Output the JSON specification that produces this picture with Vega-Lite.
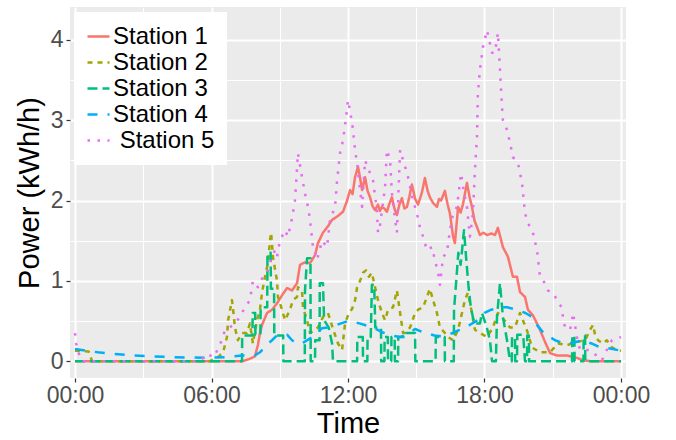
{
"$schema": "https://vega.github.io/schema/vega-lite/v6.json",
"width": 556, "height": 371,
"autosize": {"type": "none"},
"padding": {"left": 70, "top": 7, "right": 50, "bottom": 62},
"background": "white",
"config": {"view": {"fill": "#EBEBEB", "stroke": null}, "font": "Liberation Sans"},
"data": {"values": [
{"s":"1","t":0,"v":0},{"s":"1","t":7.38,"v":0},{"s":"1","t":7.69,"v":0.03},{"s":"1","t":7.91,"v":0.06},{"s":"1","t":8.04,"v":0.2},{"s":"1","t":8.13,"v":0.35},{"s":"1","t":8.22,"v":0.45},{"s":"1","t":8.44,"v":0.6},{"s":"1","t":8.66,"v":0.64},{"s":"1","t":8.88,"v":0.72},{"s":"1","t":9.1,"v":0.82},{"s":"1","t":9.32,"v":0.91},{"s":"1","t":9.54,"v":0.88},{"s":"1","t":9.76,"v":0.97},{"s":"1","t":9.89,"v":1.2},{"s":"1","t":10.11,"v":1.23},{"s":"1","t":10.33,"v":1.22},{"s":"1","t":10.55,"v":1.32},{"s":"1","t":10.68,"v":1.47},{"s":"1","t":10.9,"v":1.6},{"s":"1","t":11.12,"v":1.68},{"s":"1","t":11.3,"v":1.76},{"s":"1","t":11.52,"v":1.8},{"s":"1","t":11.78,"v":1.86},{"s":"1","t":11.96,"v":2.0},{"s":"1","t":12.09,"v":2.13},{"s":"1","t":12.2,"v":2.08},{"s":"1","t":12.31,"v":2.29},{"s":"1","t":12.44,"v":2.42},{"s":"1","t":12.52,"v":2.3},{"s":"1","t":12.62,"v":2.13},{"s":"1","t":12.75,"v":2.29},{"s":"1","t":12.86,"v":2.12},{"s":"1","t":12.97,"v":2.04},{"s":"1","t":13.08,"v":1.93},{"s":"1","t":13.19,"v":1.88},{"s":"1","t":13.32,"v":1.95},{"s":"1","t":13.4,"v":1.87},{"s":"1","t":13.49,"v":1.92},{"s":"1","t":13.6,"v":1.9},{"s":"1","t":13.71,"v":1.86},{"s":"1","t":13.82,"v":1.96},{"s":"1","t":13.93,"v":2.04},{"s":"1","t":14.04,"v":1.9},{"s":"1","t":14.15,"v":1.82},{"s":"1","t":14.26,"v":1.95},{"s":"1","t":14.37,"v":2.03},{"s":"1","t":14.48,"v":1.9},{"s":"1","t":14.59,"v":1.92},{"s":"1","t":14.7,"v":2.05},{"s":"1","t":14.81,"v":2.2},{"s":"1","t":14.95,"v":2.02},{"s":"1","t":15.08,"v":1.95},{"s":"1","t":15.25,"v":2.1},{"s":"1","t":15.38,"v":2.28},{"s":"1","t":15.5,"v":2.12},{"s":"1","t":15.6,"v":2.04},{"s":"1","t":15.74,"v":1.97},{"s":"1","t":15.91,"v":1.92},{"s":"1","t":16.0,"v":2.02},{"s":"1","t":16.09,"v":2.0},{"s":"1","t":16.26,"v":2.12},{"s":"1","t":16.38,"v":1.95},{"s":"1","t":16.48,"v":1.84},{"s":"1","t":16.62,"v":1.55},{"s":"1","t":16.7,"v":1.47},{"s":"1","t":16.84,"v":1.92},{"s":"1","t":16.95,"v":1.85},{"s":"1","t":17.05,"v":1.95},{"s":"1","t":17.23,"v":2.22},{"s":"1","t":17.34,"v":2.05},{"s":"1","t":17.45,"v":1.92},{"s":"1","t":17.56,"v":1.75},{"s":"1","t":17.67,"v":1.67},{"s":"1","t":17.8,"v":1.57},{"s":"1","t":17.95,"v":1.6},{"s":"1","t":18.11,"v":1.57},{"s":"1","t":18.3,"v":1.59},{"s":"1","t":18.46,"v":1.57},{"s":"1","t":18.59,"v":1.66},{"s":"1","t":18.81,"v":1.42},{"s":"1","t":19.03,"v":1.3},{"s":"1","t":19.25,"v":1.05},{"s":"1","t":19.43,"v":1.05},{"s":"1","t":19.56,"v":0.86},{"s":"1","t":19.78,"v":0.8},{"s":"1","t":19.91,"v":0.64},{"s":"1","t":20.13,"v":0.57},{"s":"1","t":20.44,"v":0.39},{"s":"1","t":20.66,"v":0.24},{"s":"1","t":20.88,"v":0.1},{"s":"1","t":21.19,"v":0.07},{"s":"1","t":21.63,"v":0.07},{"s":"1","t":22.07,"v":0.04},{"s":"1","t":22.33,"v":0.01},{"s":"1","t":22.64,"v":0},{"s":"1","t":24,"v":0},
{"s":"2","t":0,"v":0.13},{"s":"2","t":0.6,"v":0.12},{"s":"2","t":0.75,"v":0},{"s":"2","t":5.93,"v":0},{"s":"2","t":6.29,"v":0.05},{"s":"2","t":6.51,"v":0.11},{"s":"2","t":6.68,"v":0.3},{"s":"2","t":6.73,"v":0.51},{"s":"2","t":6.9,"v":0.76},{"s":"2","t":6.95,"v":0.64},{"s":"2","t":7.03,"v":0.42},{"s":"2","t":7.16,"v":0.26},{"s":"2","t":7.34,"v":0.35},{"s":"2","t":7.56,"v":0.35},{"s":"2","t":7.69,"v":0.47},{"s":"2","t":7.82,"v":0.22},{"s":"2","t":8.0,"v":0.51},{"s":"2","t":8.13,"v":0.64},{"s":"2","t":8.22,"v":0.85},{"s":"2","t":8.35,"v":1.05},{"s":"2","t":8.48,"v":1.22},{"s":"2","t":8.57,"v":1.5},{"s":"2","t":8.62,"v":1.6},{"s":"2","t":8.7,"v":1.3},{"s":"2","t":8.88,"v":1.0},{"s":"2","t":8.92,"v":0.8},{"s":"2","t":9.1,"v":0.64},{"s":"2","t":9.23,"v":0.51},{"s":"2","t":9.45,"v":0.64},{"s":"2","t":9.58,"v":0.76},{"s":"2","t":9.76,"v":0.8},{"s":"2","t":9.8,"v":0.92},{"s":"2","t":9.98,"v":0.88},{"s":"2","t":10.02,"v":0.67},{"s":"2","t":10.2,"v":0.51},{"s":"2","t":10.33,"v":0.35},{"s":"2","t":10.55,"v":0.39},{"s":"2","t":10.68,"v":0.42},{"s":"2","t":10.9,"v":0.55},{"s":"2","t":11.12,"v":0.6},{"s":"2","t":11.34,"v":0.4},{"s":"2","t":11.56,"v":0.22},{"s":"2","t":11.74,"v":0.14},{"s":"2","t":11.87,"v":0.47},{"s":"2","t":12.04,"v":0.6},{"s":"2","t":12.18,"v":0.65},{"s":"2","t":12.31,"v":0.76},{"s":"2","t":12.4,"v":0.92},{"s":"2","t":12.53,"v":1.0},{"s":"2","t":12.66,"v":1.1},{"s":"2","t":12.79,"v":1.13},{"s":"2","t":12.92,"v":1.05},{"s":"2","t":13.05,"v":1.1},{"s":"2","t":13.19,"v":0.92},{"s":"2","t":13.32,"v":0.76},{"s":"2","t":13.49,"v":0.6},{"s":"2","t":13.63,"v":0.51},{"s":"2","t":13.76,"v":0.64},{"s":"2","t":13.98,"v":0.67},{"s":"2","t":14.15,"v":0.88},{"s":"2","t":14.29,"v":0.6},{"s":"2","t":14.42,"v":0.35},{"s":"2","t":14.51,"v":0.35},{"s":"2","t":14.73,"v":0.42},{"s":"2","t":14.95,"v":0.6},{"s":"2","t":15.08,"v":0.64},{"s":"2","t":15.3,"v":0.67},{"s":"2","t":15.47,"v":0.8},{"s":"2","t":15.6,"v":0.9},{"s":"2","t":15.74,"v":0.76},{"s":"2","t":15.91,"v":0.6},{"s":"2","t":16.04,"v":0.42},{"s":"2","t":16.26,"v":0.35},{"s":"2","t":16.4,"v":0.3},{"s":"2","t":16.62,"v":0.26},{"s":"2","t":16.84,"v":0.39},{"s":"2","t":17.01,"v":0.6},{"s":"2","t":17.14,"v":0.76},{"s":"2","t":17.27,"v":0.85},{"s":"2","t":17.45,"v":0.6},{"s":"2","t":17.58,"v":0.39},{"s":"2","t":17.8,"v":0.35},{"s":"2","t":18.11,"v":0.3},{"s":"2","t":18.37,"v":0.42},{"s":"2","t":18.59,"v":0.6},{"s":"2","t":18.9,"v":0.5},{"s":"2","t":19.12,"v":0.42},{"s":"2","t":19.34,"v":0.42},{"s":"2","t":19.56,"v":0.6},{"s":"2","t":19.87,"v":0.38},{"s":"2","t":20.09,"v":0.17},{"s":"2","t":20.44,"v":0.11},{"s":"2","t":20.88,"v":0.11},{"s":"2","t":21.23,"v":0.22},{"s":"2","t":21.63,"v":0.2},{"s":"2","t":22.07,"v":0.24},{"s":"2","t":22.42,"v":0.26},{"s":"2","t":22.64,"v":0.39},{"s":"2","t":22.77,"v":0.45},{"s":"2","t":22.86,"v":0.33},{"s":"2","t":22.99,"v":0.26},{"s":"2","t":23.21,"v":0.22},{"s":"2","t":23.38,"v":0.26},{"s":"2","t":23.6,"v":0.17},{"s":"2","t":23.82,"v":0.14},{"s":"2","t":24,"v":0.13},
{"s":"3","t":0,"v":0},{"s":"3","t":7.34,"v":0},{"s":"3","t":7.35,"v":0.32},{"s":"3","t":7.8,"v":0.32},{"s":"3","t":7.81,"v":0.6},{"s":"3","t":7.92,"v":0.6},{"s":"3","t":7.93,"v":0.33},{"s":"3","t":8.15,"v":0.33},{"s":"3","t":8.16,"v":0.67},{"s":"3","t":8.45,"v":0.67},{"s":"3","t":8.46,"v":1.35},{"s":"3","t":8.6,"v":1.35},{"s":"3","t":8.61,"v":0.9},{"s":"3","t":8.75,"v":0.9},{"s":"3","t":8.76,"v":0.32},{"s":"3","t":9.15,"v":0.32},{"s":"3","t":9.16,"v":0},{"s":"3","t":10.1,"v":0},{"s":"3","t":10.11,"v":0.88},{"s":"3","t":10.2,"v":1.28},{"s":"3","t":10.35,"v":1.28},{"s":"3","t":10.36,"v":0},{"s":"3","t":10.55,"v":0},{"s":"3","t":10.56,"v":0.26},{"s":"3","t":10.75,"v":0.26},{"s":"3","t":10.76,"v":0.97},{"s":"3","t":10.9,"v":0.97},{"s":"3","t":10.95,"v":0.51},{"s":"3","t":11.15,"v":0.42},{"s":"3","t":11.3,"v":0.22},{"s":"3","t":11.34,"v":0},{"s":"3","t":12.4,"v":0},{"s":"3","t":12.41,"v":0.3},{"s":"3","t":12.65,"v":0.3},{"s":"3","t":12.66,"v":0},{"s":"3","t":12.85,"v":0},{"s":"3","t":12.86,"v":0.3},{"s":"3","t":13.0,"v":0.3},{"s":"3","t":13.05,"v":0.95},{"s":"3","t":13.15,"v":0.95},{"s":"3","t":13.2,"v":0.42},{"s":"3","t":13.45,"v":0.42},{"s":"3","t":13.46,"v":0},{"s":"3","t":13.6,"v":0},{"s":"3","t":13.61,"v":0.3},{"s":"3","t":13.75,"v":0.3},{"s":"3","t":13.76,"v":0},{"s":"3","t":13.9,"v":0},{"s":"3","t":13.91,"v":0.3},{"s":"3","t":14.05,"v":0.3},{"s":"3","t":14.06,"v":0},{"s":"3","t":14.2,"v":0},{"s":"3","t":14.21,"v":0.3},{"s":"3","t":14.55,"v":0.3},{"s":"3","t":14.56,"v":0.35},{"s":"3","t":14.95,"v":0.35},{"s":"3","t":14.96,"v":0},{"s":"3","t":15.85,"v":0},{"s":"3","t":15.86,"v":0.3},{"s":"3","t":16.25,"v":0.3},{"s":"3","t":16.26,"v":0},{"s":"3","t":16.65,"v":0},{"s":"3","t":16.66,"v":0.64},{"s":"3","t":16.75,"v":0.97},{"s":"3","t":16.85,"v":1.35},{"s":"3","t":16.95,"v":1.2},{"s":"3","t":17.1,"v":1.63},{"s":"3","t":17.2,"v":1.26},{"s":"3","t":17.3,"v":0.92},{"s":"3","t":17.4,"v":0.67},{"s":"3","t":17.55,"v":0.47},{"s":"3","t":17.8,"v":0.47},{"s":"3","t":17.89,"v":0.6},{"s":"3","t":18.1,"v":0.42},{"s":"3","t":18.24,"v":0.26},{"s":"3","t":18.33,"v":0},{"s":"3","t":18.5,"v":0},{"s":"3","t":18.55,"v":0.55},{"s":"3","t":18.68,"v":0.97},{"s":"3","t":18.81,"v":0.55},{"s":"3","t":18.99,"v":0.26},{"s":"3","t":19.12,"v":0},{"s":"3","t":19.2,"v":0},{"s":"3","t":19.21,"v":0.3},{"s":"3","t":19.34,"v":0.3},{"s":"3","t":19.35,"v":0},{"s":"3","t":19.43,"v":0},{"s":"3","t":19.44,"v":0.33},{"s":"3","t":19.7,"v":0.33},{"s":"3","t":19.78,"v":0},{"s":"3","t":19.87,"v":0},{"s":"3","t":19.88,"v":0.32},{"s":"3","t":19.95,"v":0.32},{"s":"3","t":19.96,"v":0},{"s":"3","t":21.85,"v":0},{"s":"3","t":21.86,"v":0.32},{"s":"3","t":21.95,"v":0.32},{"s":"3","t":21.96,"v":0},{"s":"3","t":22.35,"v":0},{"s":"3","t":22.36,"v":0.32},{"s":"3","t":22.42,"v":0.32},{"s":"3","t":22.43,"v":0},{"s":"3","t":24,"v":0},
{"s":"4","t":0,"v":0.15},{"s":"4","t":0.5,"v":0.13},{"s":"4","t":1.0,"v":0.11},{"s":"4","t":1.75,"v":0.09},{"s":"4","t":2.55,"v":0.07},{"s":"4","t":3.4,"v":0.06},{"s":"4","t":4.3,"v":0.05},{"s":"4","t":5.85,"v":0.04},{"s":"4","t":6.6,"v":0.05},{"s":"4","t":7.34,"v":0.07},{"s":"4","t":7.9,"v":0.07},{"s":"4","t":8.13,"v":0.11},{"s":"4","t":8.5,"v":0.22},{"s":"4","t":8.66,"v":0.26},{"s":"4","t":8.88,"v":0.32},{"s":"4","t":9.32,"v":0.33},{"s":"4","t":9.54,"v":0.26},{"s":"4","t":9.76,"v":0.22},{"s":"4","t":9.98,"v":0.22},{"s":"4","t":10.2,"v":0.26},{"s":"4","t":10.42,"v":0.3},{"s":"4","t":10.64,"v":0.36},{"s":"4","t":10.86,"v":0.41},{"s":"4","t":11.1,"v":0.42},{"s":"4","t":11.5,"v":0.45},{"s":"4","t":12.0,"v":0.5},{"s":"4","t":12.5,"v":0.47},{"s":"4","t":13.1,"v":0.42},{"s":"4","t":13.5,"v":0.36},{"s":"4","t":13.9,"v":0.32},{"s":"4","t":14.3,"v":0.3},{"s":"4","t":14.6,"v":0.33},{"s":"4","t":14.95,"v":0.4},{"s":"4","t":15.3,"v":0.36},{"s":"4","t":15.8,"v":0.32},{"s":"4","t":16.1,"v":0.31},{"s":"4","t":16.5,"v":0.34},{"s":"4","t":16.9,"v":0.39},{"s":"4","t":17.35,"v":0.45},{"s":"4","t":17.7,"v":0.51},{"s":"4","t":18.0,"v":0.6},{"s":"4","t":18.3,"v":0.64},{"s":"4","t":18.7,"v":0.67},{"s":"4","t":19.0,"v":0.67},{"s":"4","t":19.4,"v":0.64},{"s":"4","t":19.8,"v":0.6},{"s":"4","t":20.1,"v":0.55},{"s":"4","t":20.25,"v":0.47},{"s":"4","t":20.6,"v":0.35},{"s":"4","t":21.1,"v":0.26},{"s":"4","t":21.5,"v":0.22},{"s":"4","t":21.9,"v":0.23},{"s":"4","t":22.3,"v":0.26},{"s":"4","t":22.7,"v":0.22},{"s":"4","t":23.1,"v":0.17},{"s":"4","t":23.45,"v":0.16},{"s":"4","t":23.82,"v":0.14},{"s":"4","t":24,"v":0.13},
{"s":"5","t":0,"v":0.35},{"s":"5","t":0.05,"v":0.22},{"s":"5","t":0.15,"v":0.11},{"s":"5","t":0.3,"v":0},{"s":"5","t":5.5,"v":0},{"s":"5","t":5.8,"v":0.09},{"s":"5","t":6.1,"v":0.05},{"s":"5","t":6.3,"v":0.16},{"s":"5","t":6.45,"v":0.26},{"s":"5","t":6.6,"v":0.39},{"s":"5","t":6.8,"v":0.42},{"s":"5","t":7.03,"v":0.47},{"s":"5","t":7.25,"v":0.55},{"s":"5","t":7.47,"v":0.67},{"s":"5","t":7.69,"v":0.76},{"s":"5","t":7.82,"v":1.0},{"s":"5","t":8.04,"v":0.92},{"s":"5","t":8.26,"v":1.05},{"s":"5","t":8.48,"v":1.13},{"s":"5","t":8.66,"v":1.3},{"s":"5","t":8.79,"v":1.38},{"s":"5","t":8.88,"v":1.3},{"s":"5","t":9.01,"v":1.5},{"s":"5","t":9.23,"v":1.63},{"s":"5","t":9.36,"v":1.55},{"s":"5","t":9.54,"v":1.78},{"s":"5","t":9.67,"v":2.0},{"s":"5","t":9.8,"v":2.59},{"s":"5","t":9.98,"v":2.29},{"s":"5","t":10.11,"v":2.09},{"s":"5","t":10.24,"v":1.92},{"s":"5","t":10.33,"v":1.76},{"s":"5","t":10.46,"v":1.42},{"s":"5","t":10.64,"v":1.26},{"s":"5","t":10.86,"v":1.5},{"s":"5","t":11.08,"v":1.42},{"s":"5","t":11.21,"v":1.76},{"s":"5","t":11.43,"v":1.92},{"s":"5","t":11.52,"v":2.25},{"s":"5","t":11.65,"v":2.59},{"s":"5","t":11.78,"v":2.75},{"s":"5","t":11.9,"v":3.0},{"s":"5","t":12.0,"v":3.25},{"s":"5","t":12.1,"v":3.1},{"s":"5","t":12.2,"v":2.92},{"s":"5","t":12.31,"v":2.63},{"s":"5","t":12.4,"v":2.47},{"s":"5","t":12.53,"v":2.13},{"s":"5","t":12.62,"v":1.92},{"s":"5","t":12.75,"v":2.5},{"s":"5","t":12.97,"v":2.34},{"s":"5","t":13.1,"v":2.25},{"s":"5","t":13.27,"v":1.88},{"s":"5","t":13.32,"v":1.6},{"s":"5","t":13.41,"v":1.7},{"s":"5","t":13.63,"v":2.17},{"s":"5","t":13.71,"v":2.63},{"s":"5","t":13.85,"v":2.5},{"s":"5","t":13.93,"v":2.09},{"s":"5","t":14.07,"v":1.76},{"s":"5","t":14.15,"v":1.6},{"s":"5","t":14.29,"v":2.63},{"s":"5","t":14.51,"v":2.42},{"s":"5","t":14.64,"v":2.29},{"s":"5","t":14.86,"v":2.0},{"s":"5","t":15.03,"v":1.84},{"s":"5","t":15.16,"v":1.67},{"s":"5","t":15.3,"v":1.55},{"s":"5","t":15.47,"v":1.38},{"s":"5","t":15.69,"v":1.42},{"s":"5","t":15.82,"v":1.26},{"s":"5","t":15.96,"v":1.1},{"s":"5","t":16.04,"v":0.95},{"s":"5","t":16.18,"v":1.3},{"s":"5","t":16.35,"v":1.35},{"s":"5","t":16.48,"v":1.63},{"s":"5","t":16.62,"v":1.84},{"s":"5","t":16.79,"v":1.92},{"s":"5","t":16.97,"v":2.34},{"s":"5","t":17.1,"v":2.09},{"s":"5","t":17.23,"v":1.92},{"s":"5","t":17.36,"v":1.55},{"s":"5","t":17.49,"v":1.84},{"s":"5","t":17.58,"v":2.38},{"s":"5","t":17.67,"v":2.79},{"s":"5","t":17.71,"v":3.34},{"s":"5","t":17.8,"v":3.63},{"s":"5","t":17.93,"v":3.91},{"s":"5","t":18.11,"v":4.12},{"s":"5","t":18.33,"v":3.84},{"s":"5","t":18.46,"v":3.84},{"s":"5","t":18.59,"v":4.09},{"s":"5","t":18.68,"v":3.63},{"s":"5","t":18.77,"v":3.17},{"s":"5","t":18.81,"v":3.0},{"s":"5","t":18.99,"v":2.88},{"s":"5","t":19.12,"v":2.72},{"s":"5","t":19.25,"v":2.54},{"s":"5","t":19.47,"v":2.47},{"s":"5","t":19.65,"v":2.22},{"s":"5","t":19.78,"v":1.84},{"s":"5","t":19.91,"v":1.72},{"s":"5","t":20.13,"v":1.6},{"s":"5","t":20.31,"v":1.38},{"s":"5","t":20.44,"v":1.05},{"s":"5","t":20.66,"v":0.97},{"s":"5","t":20.79,"v":0.88},{"s":"5","t":21.01,"v":0.85},{"s":"5","t":21.19,"v":0.76},{"s":"5","t":21.41,"v":0.66},{"s":"5","t":21.45,"v":0.54},{"s":"5","t":21.54,"v":0.42},{"s":"5","t":21.76,"v":0.39},{"s":"5","t":21.85,"v":0.51},{"s":"5","t":21.89,"v":0.6},{"s":"5","t":22.07,"v":0.29},{"s":"5","t":22.2,"v":0.14},{"s":"5","t":22.64,"v":0.14},{"s":"5","t":23.16,"v":0.01},{"s":"5","t":23.43,"v":0.17},{"s":"5","t":23.6,"v":0.26},{"s":"5","t":23.91,"v":0.29},{"s":"5","t":24,"v":0.3}
]},
"mark": {"type": "line", "strokeWidth": 2.5, "clip": true, "strokeCap": "butt", "strokeJoin": "round"},
"encoding": {
  "x": {"field": "t", "type": "quantitative",
    "scale": {"domain": [-0.22, 24.22], "nice": false, "zero": false},
    "axis": {"values": [0,3,6,9,12,15,18,21,24], "title": "Time",
      "labelExpr": "datum.value % 6 === 0 ? ((datum.value % 24) < 10 ? '0' : '') + (datum.value % 24) + ':00' : ''",
      "labelFontSize": 23, "labelColor": "#4D4D4D", "labelPadding": 2, "labelFont": "Liberation Sans",
      "titleFontSize": 29, "titleFontWeight": "normal", "titleColor": "black", "titlePadding": 2, "titleFont": "Liberation Sans",
      "domain": false, "tickColor": "#333333", "tickSize": 4, "tickWidth": 1.2,
      "tickOpacity": {"condition": {"test": "datum.value % 6 === 0", "value": 1}, "value": 0},
      "gridColor": "white",
      "gridWidth": {"condition": {"test": "datum.value % 6 === 0", "value": 2}, "value": 1}}},
  "y": {"field": "v", "type": "quantitative",
    "scale": {"domain": [-0.21, 4.41], "nice": false, "zero": false},
    "axis": {"values": [0,0.5,1,1.5,2,2.5,3,3.5,4], "title": "Power (kWh/h)",
      "labelExpr": "datum.value % 1 === 0 ? '' + datum.value : ''",
      "labelFontSize": 23, "labelColor": "#4D4D4D", "labelPadding": 3, "labelFont": "Liberation Sans",
      "titleFontSize": 29, "titleFontWeight": "normal", "titleColor": "black", "titlePadding": 6, "titleFont": "Liberation Sans",
      "domain": false, "tickColor": "#333333", "tickSize": 4, "tickWidth": 1.2,
      "tickOpacity": {"condition": {"test": "datum.value % 1 === 0", "value": 1}, "value": 0},
      "gridColor": "white",
      "gridWidth": {"condition": {"test": "datum.value % 1 === 0", "value": 2}, "value": 1}}},
  "color": {"field": "s", "type": "nominal",
    "scale": {"domain": ["1","2","3","4","5"], "range": ["#F8766D","#A3A500","#00BF7D","#00B0F6","#E76BF3"]},
    "legend": {"orient": "none", "legendX": 4, "legendY": 5, "title": null, "fillColor": "white", "padding": 12,
      "symbolType": "stroke", "symbolSize": 484, "symbolStrokeWidth": 2.5, "labelFontSize": 24, "labelFont": "Liberation Sans",
      "labelColor": "black", "rowPadding": 1, "labelOffset": 2,
      "labelExpr": "datum.label == '5' ? '\u200b\u00a0Station 5' : 'Station ' + datum.label"}},
  "strokeDash": {"field": "s", "type": "nominal",
    "scale": {"domain": ["1","2","3","4","5"], "range": [[1,0],[5,5],[10,5],[10,10],[2.5,7.5]]},
    "legend": {"orient": "none", "legendX": 4, "legendY": 5, "title": null, "fillColor": "white", "padding": 12,
      "symbolType": "stroke", "symbolSize": 484, "symbolStrokeWidth": 2.5, "labelFontSize": 24, "labelFont": "Liberation Sans",
      "labelColor": "black", "rowPadding": 1, "labelOffset": 2,
      "labelExpr": "datum.label == '5' ? '\u200b\u00a0Station 5' : 'Station ' + datum.label"}}
}
}
